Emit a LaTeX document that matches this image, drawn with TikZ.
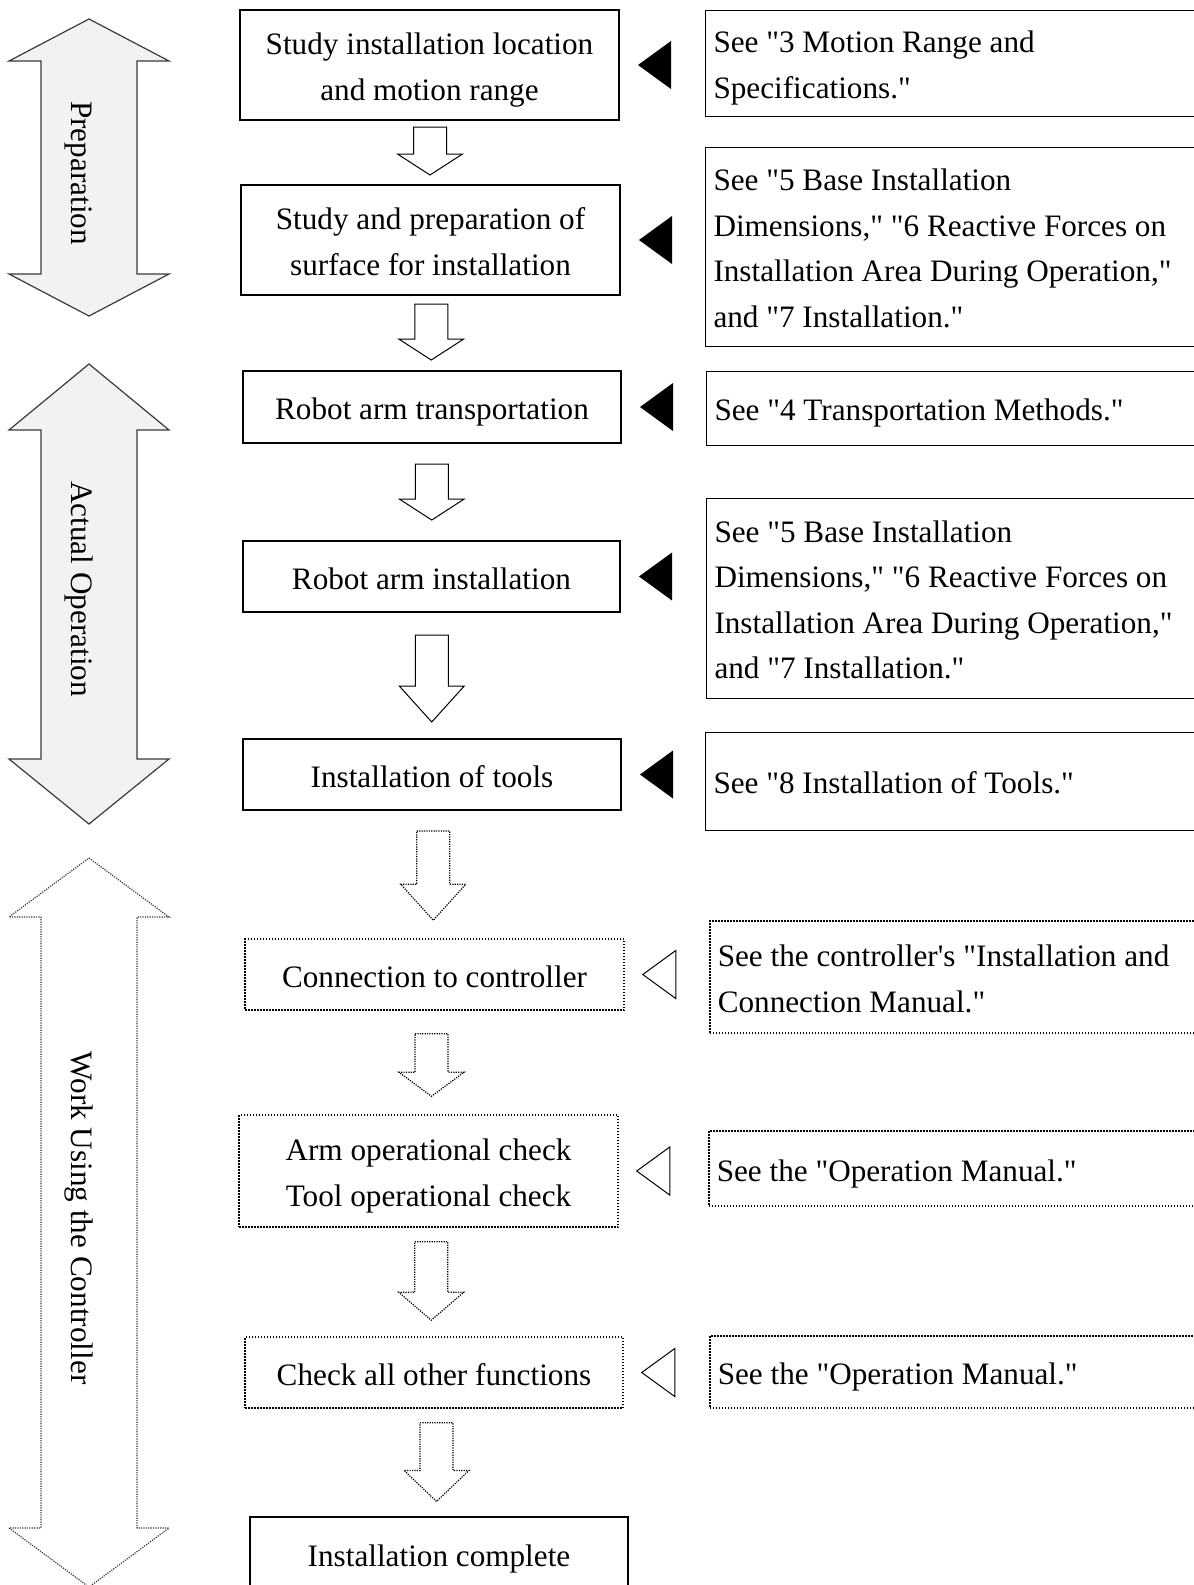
\documentclass[tikz,border=0pt]{standalone}
\usepackage{fontspec}
\setmainfont{Liberation Serif}[Ligatures=TeXOff]
\usepackage{tikz}
\usetikzlibrary{calc}
\definecolor{phasefill}{HTML}{F2F2F2}
\definecolor{phaseline}{HTML}{3A3A3A}
\tikzset{
  LineBox/.style={execute at begin node={\rule{0pt}{34pt}},
    execute at end node={\rule[-9pt]{0pt}{9pt}}},
  StepBox/.style={draw, line width=2pt, align=flush center, text width=370pt,
    inner sep=0pt, LineBox},
  StepDotted/.style={StepBox, line width=1.5pt, dash pattern=on 1.5pt off 1.5pt},
  RefBox/.style={draw, line width=1pt, anchor=west, align=flush left,
    text width=479pt, inner xsep=8pt, inner ysep=0pt, LineBox},
  RefDotted/.style={RefBox, line width=1.5pt, dash pattern=on 1.5pt off 1.5pt},
  FlowSolid/.style={draw, line width=1pt, fill=white},
  FlowDotted/.style={draw, line width=1.2pt, dash pattern=on 1.2pt off 1.2pt},
  PointerSolid/.style={fill=black},
  PointerHollow/.style={draw, line width=1pt},
  PhaseSolid/.style={draw=phaseline, line width=1.2pt, fill=phasefill},
  PhaseDotted/.style={draw=phaseline, line width=1.2pt, dash pattern=on 1.2pt off 1.2pt},
  PhaseLabel/.style={rotate=-90, inner sep=0pt}
}
\newcommand{\PhaseArrow}[5][]{%
  % #1 = style, #2 = top tip, #3 = top head base, #4 = bottom head base, #5 = bottom tip
  \draw[#1] (89,#2) -- (169,#3) -- (137,#3) -- (137,#4) -- (169,#4) -- (89,#5)
    -- (9,#4) -- (41,#4) -- (41,#3) -- (9,#3) -- cycle;
}
\newcommand{\FlowArrow}[6][]{%
  % #1 = style, #2 = upper node, #3 = lower node,
  % #4 = gap below upper, #5 = gap above lower, #6 = head length
  \draw[#1] let \p1=($(#2.south)!0.5!(#3.north)$), \p2=(#2.south), \p3=(#3.north) in
    (\x1-16.5pt,\y2-#4pt) -- (\x1+16.5pt,\y2-#4pt) -- (\x1+16.5pt,\y3+#5pt+#6pt)
    -- (\x1+32.5pt,\y3+#5pt+#6pt) -- (\x1,\y3+#5pt) -- (\x1-32.5pt,\y3+#5pt+#6pt)
    -- (\x1-16.5pt,\y3+#5pt+#6pt) -- cycle;
}
\newcommand{\Pointer}[2][]{%
  % #1 = style, #2 = step node it points at
  \path[#1] ($(#2.east)+(18,0)$) -- ($(#2.east)+(51,-24)$) -- ($(#2.east)+(51,24)$) -- cycle;
}
\begin{document}
\begin{tikzpicture}[x=1pt, y=-1pt, line join=miter, font=\fontsize{31.2}{45.5}\selectfont]
  \useasboundingbox (0,0) rectangle (1194,1585);

  % phases on the left
  \PhaseArrow[PhaseSolid]{19}{61}{274}{316}
  \node[PhaseLabel] (prep) at (79,173) {Preparation};
  \PhaseArrow[PhaseSolid]{364}{430}{759}{824}
  \node[PhaseLabel] (actual) at (79,589) {Actual Operation};
  \PhaseArrow[PhaseDotted]{858}{917}{1528}{1587}
  \node[PhaseLabel] (work) at (79,1218) {Work Using the Controller};

  % steps
  \node[StepBox, minimum width=379pt, minimum height=110pt] (study) at (429.5,65)
    {Study installation location\\and motion range};
  \node[StepBox, minimum width=379pt, minimum height=110pt] (surface) at (430.5,240)
    {Study and preparation of\\surface for installation};
  \node[StepBox, minimum width=378pt, minimum height=72pt] (transport) at (432,407)
    {Robot arm transportation};
  \node[StepBox, minimum width=377pt, minimum height=71pt] (install) at (431.5,576.5)
    {Robot arm installation};
  \node[StepBox, minimum width=378pt, minimum height=71pt] (tools) at (432,774.5)
    {Installation of tools};
  \node[StepDotted, minimum width=379pt, minimum height=71pt] (connect) at (434.5,974.5)
    {Connection to controller};
  \node[StepDotted, minimum width=379pt, minimum height=112pt] (opcheck) at (428.5,1171)
    {Arm operational check\\Tool operational check};
  \node[StepDotted, minimum width=378pt, minimum height=71pt] (others) at (434,1372.5)
    {Check all other functions};
  \node[StepBox, line width=1.2pt, minimum width=378pt, minimum height=74pt] (done) at (439,1554)
    {Installation complete};

  % arrows between steps
  \FlowArrow[FlowSolid]{study}{surface}{6}{9}{21}
  \FlowArrow[FlowSolid]{surface}{transport}{8}{10}{21}
  \FlowArrow[FlowSolid]{transport}{install}{20}{20}{21}
  \FlowArrow[FlowSolid]{install}{tools}{22}{16}{36}
  \FlowArrow[FlowDotted]{tools}{connect}{20}{18}{36}
  \FlowArrow[FlowDotted]{connect}{opcheck}{23}{18}{24}
  \FlowArrow[FlowDotted]{opcheck}{others}{14}{16}{28}
  \FlowArrow[FlowDotted]{others}{done}{14}{15}{31}

  % references
  \node[RefBox, minimum height=106pt] (ref1) at (705,63)
    {See "3 Motion Range and\\Specifications."};
  \node[RefBox, minimum height=199pt] (ref2) at (705,246.5)
    {See "5 Base Installation\\Dimensions," "6 Reactive Forces on\\Installation Area During Operation,"\\and "7 Installation."};
  \node[RefBox, minimum height=74pt] (ref3) at (706,408)
    {See "4 Transportation Methods."};
  \node[RefBox, minimum height=200pt] (ref4) at (706,598)
    {See "5 Base Installation\\Dimensions," "6 Reactive Forces on\\Installation Area During Operation,"\\and "7 Installation."};
  \node[RefBox, minimum height=98pt] (ref5) at (705,781)
    {See "8 Installation of Tools."};
  \node[RefDotted, minimum height=112pt] (ref6) at (709,977)
    {See the controller's "Installation and\\Connection Manual."};
  \node[RefDotted, minimum height=75pt] (ref7) at (708,1168.5)
    {See the "Operation Manual."};
  \node[RefDotted, minimum height=72pt] (ref8) at (709,1372)
    {See the "Operation Manual."};

  % pointers
  \Pointer[PointerSolid]{study}
  \Pointer[PointerSolid]{surface}
  \Pointer[PointerSolid]{transport}
  \Pointer[PointerSolid]{install}
  \Pointer[PointerSolid]{tools}
  \Pointer[PointerHollow]{connect}
  \Pointer[PointerHollow]{opcheck}
  \Pointer[PointerHollow]{others}
\end{tikzpicture}
\end{document}
